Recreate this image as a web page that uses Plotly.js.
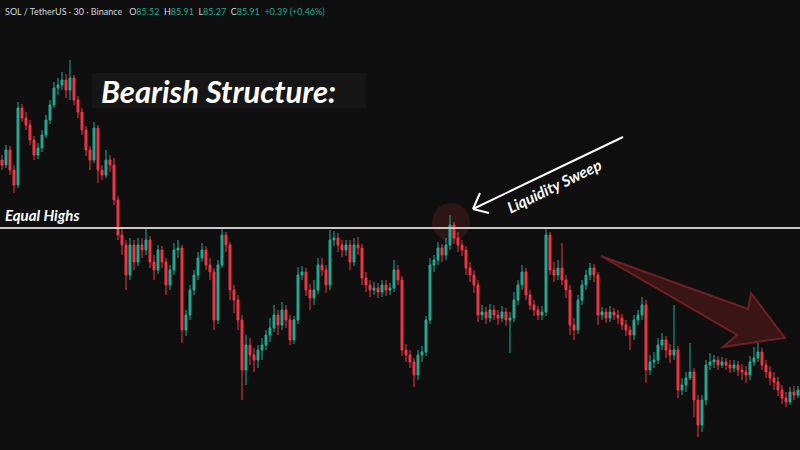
<!DOCTYPE html>
<html>
<head>
<meta charset="utf-8">
<script src="https://cdn.plot.ly/plotly-3.0.1.min.js"></script>
<style>
  html, body { margin: 0; padding: 0; background: #0f0f0f; }
  #chart { width: 800px; height: 450px; }
</style>
</head>
<body>
<div id="chart"></div>
<script>
// SOL / TetherUS, 30-minute candles
const open = [
88.40,88.35,88.50,88.30,88.15,88.92,88.82,88.75,88.60,88.45,
88.52,88.65,88.80,88.95,89.12,89.15,89.20,89.10,89.22,89.00,
88.88,88.70,88.50,88.40,88.72,88.30,88.25,88.40,88.35,88.00,
87.65,87.55,87.25,87.55,87.38,87.55,87.50,87.60,87.38,87.30,
87.50,87.38,87.15,87.30,87.50,87.52,86.70,86.85,87.10,87.25,
87.42,87.50,87.35,87.28,86.80,87.35,87.65,87.55,87.10,87.00,
86.80,86.30,86.55,86.45,86.40,86.50,86.55,86.65,86.72,86.85,
86.75,86.90,86.80,86.60,86.80,87.25,87.28,87.10,87.02,87.10,
87.35,87.30,87.15,87.60,87.62,87.55,87.50,87.55,87.38,87.55,
87.52,87.22,87.15,87.10,87.12,87.08,87.15,87.10,87.12,87.30,
87.20,86.50,86.45,86.38,86.25,86.45,86.48,86.80,87.35,87.40,
87.52,87.45,87.55,87.75,87.62,87.55,87.50,87.32,87.25,87.15,
86.85,86.88,86.82,86.90,86.85,86.82,86.88,86.80,86.82,87.00,
87.15,87.28,87.05,86.95,86.90,86.85,86.88,87.65,87.30,87.25,
87.32,87.20,87.10,86.75,86.70,87.00,87.15,87.25,87.32,87.25,
86.85,86.88,86.82,86.88,86.85,86.82,86.75,86.70,86.65,86.80,
86.85,86.95,86.30,86.38,86.40,86.55,86.60,86.50,86.45,86.50,
86.10,86.15,86.22,86.28,86.00,85.75,86.00,86.35,86.38,86.40,
86.35,86.38,86.35,86.32,86.35,86.30,86.28,86.25,86.38,86.42,
86.48,86.35,86.28,86.22,86.18,86.10,86.02,85.98,86.08,86.05];

const high = [
88.45,88.55,88.54,88.35,88.98,88.96,88.88,88.80,88.64,88.57,
88.70,88.85,89.00,89.18,89.22,89.28,89.26,89.40,89.25,89.04,
88.92,88.74,88.54,88.78,88.75,88.35,88.50,88.45,88.42,88.04,
87.72,87.60,87.62,87.60,87.62,87.62,87.71,87.64,87.45,87.55,
87.54,87.42,87.35,87.57,87.60,87.55,86.90,87.15,87.30,87.48,
87.57,87.54,87.42,87.32,87.40,87.72,87.68,87.58,87.15,87.05,
86.85,86.65,86.62,86.52,86.55,86.62,86.70,86.82,86.95,86.90,
86.98,86.95,86.85,86.84,87.33,87.34,87.32,87.16,87.20,87.42,
87.42,87.35,87.70,87.69,87.67,87.60,87.60,87.60,87.62,87.63,
87.56,87.28,87.20,87.18,87.17,87.20,87.20,87.17,87.40,87.35,
87.24,86.56,86.50,86.42,86.50,86.54,86.84,87.42,87.45,87.58,
87.56,87.62,87.85,87.78,87.68,87.60,87.54,87.38,87.30,87.20,
86.95,86.93,86.96,86.95,86.90,86.94,86.92,86.88,87.08,87.20,
87.35,87.32,87.10,87.00,86.94,86.94,87.73,87.68,87.38,87.40,
87.57,87.25,87.15,86.82,87.05,87.20,87.30,87.37,87.36,87.28,
86.93,86.92,86.94,86.92,86.90,86.86,86.80,86.74,86.85,86.90,
87.03,87.00,86.45,86.48,86.62,86.67,86.64,86.56,86.95,86.54,
86.22,86.28,86.57,86.32,86.05,86.05,86.40,86.47,86.45,86.44,
86.43,86.42,86.40,86.40,86.39,86.36,86.34,86.44,86.53,86.57,
86.52,86.40,86.34,86.28,86.23,86.15,86.08,86.13,86.14,86.14];

const low = [
88.30,88.32,88.25,88.07,88.12,88.78,88.70,88.55,88.40,88.41,
88.48,88.62,88.76,88.92,89.05,89.10,89.02,89.00,88.95,88.82,
88.65,88.44,88.30,88.37,88.17,88.20,88.22,88.28,87.95,87.60,
87.45,87.10,87.20,87.30,87.34,87.42,87.45,87.32,87.20,87.26,
87.32,87.05,87.10,87.25,87.42,86.57,86.64,86.80,87.05,87.20,
87.38,87.30,87.20,86.70,86.76,87.32,87.48,87.00,86.87,86.70,
86.00,86.15,86.35,86.28,86.32,86.40,86.50,86.58,86.68,86.65,
86.70,86.72,86.55,86.56,86.76,87.20,87.04,86.90,86.95,87.06,
87.24,87.07,87.10,87.54,87.48,87.43,87.44,87.30,87.34,87.45,
87.15,87.08,87.03,87.05,87.02,87.03,87.04,87.05,87.08,87.15,
86.44,86.38,86.32,86.13,86.20,86.38,86.44,86.76,87.28,87.35,
87.38,87.40,87.50,87.56,87.48,87.44,87.25,87.18,87.07,86.78,
86.80,86.76,86.78,86.80,86.75,86.78,86.74,86.47,86.78,86.95,
87.10,87.00,86.90,86.84,86.80,86.80,86.84,87.25,87.18,87.20,
87.15,87.02,86.65,86.60,86.66,86.95,87.10,87.20,87.18,86.75,
86.80,86.77,86.78,86.80,86.76,86.70,86.64,86.50,86.60,86.75,
86.80,86.17,86.25,86.32,86.36,86.50,86.42,86.37,86.40,86.02,
86.05,86.08,86.20,85.83,85.63,85.68,85.95,86.30,86.32,86.30,
86.32,86.30,86.27,86.28,86.24,86.20,86.17,86.20,86.34,86.38,
86.30,86.22,86.15,86.10,86.04,85.96,85.93,85.95,86.00,86.02];

const close = [
88.35,88.50,88.30,88.15,88.92,88.82,88.75,88.60,88.45,88.52,
88.65,88.80,88.95,89.12,89.15,89.20,89.10,89.22,89.00,88.88,
88.70,88.50,88.40,88.72,88.30,88.25,88.40,88.35,88.00,87.65,
87.55,87.25,87.55,87.38,87.55,87.50,87.60,87.38,87.30,87.50,
87.38,87.15,87.30,87.50,87.52,86.70,86.85,87.10,87.25,87.42,
87.50,87.35,87.28,86.80,87.35,87.65,87.55,87.10,87.00,86.80,
86.30,86.55,86.45,86.40,86.50,86.55,86.65,86.72,86.85,86.75,
86.90,86.80,86.60,86.80,87.25,87.28,87.10,87.02,87.10,87.35,
87.30,87.15,87.60,87.62,87.55,87.50,87.55,87.38,87.55,87.52,
87.22,87.15,87.10,87.12,87.08,87.15,87.10,87.12,87.30,87.20,
86.50,86.45,86.38,86.25,86.45,86.48,86.80,87.35,87.40,87.52,
87.45,87.55,87.75,87.62,87.55,87.50,87.32,87.25,87.15,86.85,
86.88,86.82,86.90,86.85,86.82,86.88,86.80,86.82,87.00,87.15,
87.28,87.05,86.95,86.90,86.85,86.88,87.65,87.30,87.25,87.32,
87.20,87.10,86.75,86.70,87.00,87.15,87.25,87.32,87.25,86.85,
86.88,86.82,86.88,86.85,86.82,86.75,86.70,86.65,86.80,86.85,
86.95,86.30,86.38,86.40,86.55,86.60,86.50,86.45,86.50,86.10,
86.15,86.22,86.28,86.00,85.75,86.00,86.35,86.38,86.40,86.35,
86.38,86.35,86.32,86.35,86.30,86.28,86.25,86.38,86.42,86.48,
86.35,86.28,86.22,86.18,86.10,86.02,85.98,86.08,86.05,86.10];

// Header / legend values
const symbolLabel = "SOL / TetherUS · 30 · Binance";
const ohlcLabels = ["O", "H", "L", "C"];
const ohlcValues = ["85.52", "85.91", "85.27", "85.91"];
const changeLabel = "+0.39 (+0.46%)";

// Annotation levels
const equalHighsLevel = 87.72;

const bars = open.map((_, i) => i);

const up = "#22ab94", down = "#f23645";

const trace = {
  type: "candlestick",
  x: bars, open: open, high: high, low: low, close: close,
  increasing: { line: { color: up, width: 1 }, fillcolor: up },
  decreasing: { line: { color: down, width: 1 }, fillcolor: down },
  whiskerwidth: 0,
  hoverinfo: "skip",
  showlegend: false
};

const headerText = symbolLabel + "   " +
  ohlcLabels.map((l, k) => l + '<span style="color:' + up + '">' + ohlcValues[k] + '</span>').join("  ") +
  '  <span style="color:' + up + '">' + changeLabel + '</span>';

const px = v => v / 4 - 0.5;           // helper for placing drawings along the bar axis
const white = "#ffffff";
const textFont = (s) => ({ family: "Lato, 'Open Sans', sans-serif", size: s, color: white, weight: 700, style: "italic" });

const layout = {
  width: 800, height: 450,
  margin: { l: 0, r: 0, t: 0, b: 0 },
  paper_bgcolor: "#0f0f0f",
  plot_bgcolor: "#0f0f0f",
  showlegend: false,
  xaxis: { range: [-0.5, 199.5], visible: false, rangeslider: { visible: false }, fixedrange: true },
  yaxis: { range: [85.5, 90.0], visible: false, fixedrange: true },
  shapes: [
    // equal highs line
    { type: "line", xref: "paper", x0: 0, x1: 1, yref: "y", y0: equalHighsLevel, y1: equalHighsLevel,
      line: { color: "#c8c8c8", width: 2 } },
    // sweep highlight circle
    { type: "circle", xref: "x", yref: "y", x0: px(432), x1: px(470), y0: 87.59, y1: 87.97,
      fillcolor: "rgba(120,40,40,0.30)", line: { width: 0 }, layer: "below" },
    // title box
    { type: "rect", xref: "paper", yref: "paper", x0: 92/800, x1: 366/800, y0: 1 - 108/450, y1: 1 - 73/450,
      fillcolor: "#161616", line: { width: 0 } },
    // liquidity sweep arrow
    { type: "line", xref: "x", yref: "y", x0: px(623), y0: 88.63, x1: px(473), y1: 87.91,
      line: { color: white, width: 2 } },
    { type: "line", xref: "x", yref: "y", x0: px(473), y0: 87.91, x1: px(480), y1: 88.07,
      line: { color: white, width: 2 } },
    { type: "line", xref: "x", yref: "y", x0: px(473), y0: 87.91, x1: px(489), y1: 87.87,
      line: { color: white, width: 2 } },
    // big bearish arrow
    { type: "path", xref: "x", yref: "y",
      path: "M " + px(601) + ",87.44 L " + px(748) + ",86.91 L " + px(751) + ",87.07 L " + px(785) + ",86.62 L " +
            px(723) + ",86.53 L " + px(737) + ",86.65 Z",
      fillcolor: "rgba(110,28,32,0.45)", line: { color: "rgba(150,40,45,0.65)", width: 2 } }
  ],
  annotations: [
    { xref: "paper", yref: "paper", x: 0.004, y: 1, xanchor: "left", yanchor: "top", yshift: -4,
      text: headerText, showarrow: false, align: "left",
      font: { family: "Lato, sans-serif", size: 9, color: "#d1d4dc" } },
    { xref: "paper", yref: "paper", x: 99/800, y: 1 - 91/450, xanchor: "left", yanchor: "middle",
      text: "Bearish Structure:", showarrow: false, font: textFont(31) },
    { xref: "paper", yref: "y", x: 3/800, y: 87.85, xanchor: "left", yanchor: "middle",
      text: "Equal Highs", showarrow: false, font: textFont(15) },
    { xref: "x", yref: "y", x: px(554), y: 88.14, xanchor: "center", yanchor: "middle",
      text: "Liquidity Sweep", showarrow: false, textangle: -26, font: textFont(15.5) }
  ]
};

Plotly.newPlot("chart", [trace], layout, { staticPlot: true, displayModeBar: false });
</script>
</body>
</html>
